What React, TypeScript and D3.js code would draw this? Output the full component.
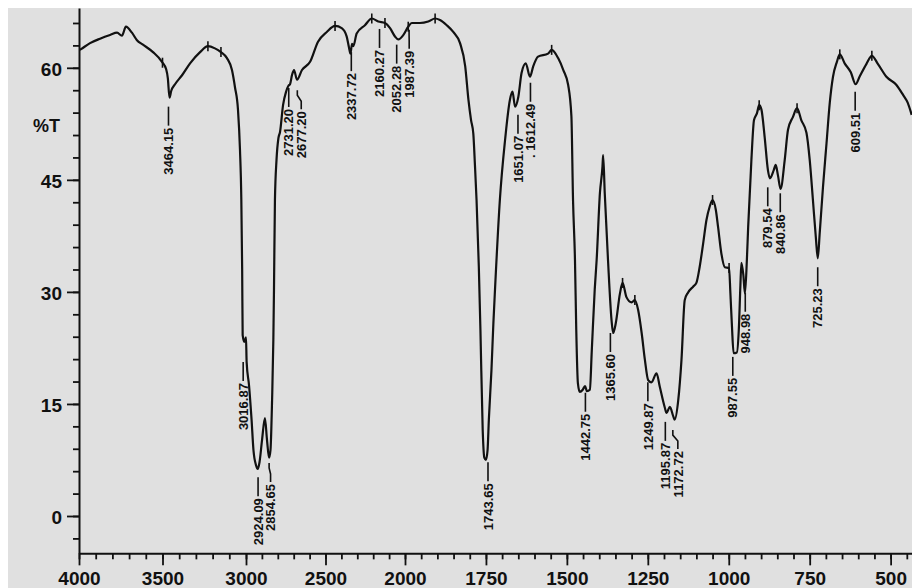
import { useEffect, useRef } from 'react';
import * as d3 from 'd3';

// spectrum (wavenumber cm-1, %T)
const wavenumbers = [
  3995, 3988, 3934, 3874, 3814, 3772, 3743, 3719, 3683, 3653, 3617, 3557, 3503, 3478, 3468, 3458, 3448, 3425,
  3383, 3335, 3275, 3228, 3186, 3150, 3114, 3084, 3066, 3048, 3036, 3028, 3023, 3020, 3010, 3000, 2996, 2981,
  2965, 2953, 2937, 2926, 2915, 2899, 2881, 2868, 2855, 2846, 2836, 2828, 2824, 2818, 2808, 2796, 2786, 2767,
  2748, 2733, 2723, 2711, 2698, 2679, 2648, 2597, 2547, 2492, 2440, 2398, 2367, 2352, 2343, 2333, 2325, 2304,
  2252, 2209, 2168, 2126, 2094, 2063, 2042, 2010, 1990, 1979, 1954, 1928, 1907, 1892, 1871, 1851, 1830, 1814,
  1804, 1796, 1789, 1784, 1779, 1772, 1767, 1760, 1755, 1750, 1745, 1741, 1733, 1727, 1722, 1707, 1691, 1676,
  1668, 1660, 1650, 1640, 1627, 1614, 1604, 1589, 1558, 1547, 1527, 1511, 1496, 1486, 1481, 1475, 1471, 1466,
  1460, 1451, 1444, 1438, 1429, 1423, 1414, 1408, 1398, 1390, 1388, 1383, 1373, 1362, 1357, 1349, 1336, 1328,
  1316, 1300, 1290, 1280, 1269, 1259, 1249, 1239, 1223, 1213, 1198, 1192, 1182, 1171, 1167, 1156, 1146, 1136,
  1126, 1110, 1100, 1090, 1079, 1069, 1059, 1050, 1040, 1033, 1023, 1012, 999, 995, 990, 985, 975, 969,
  964, 961, 955, 950, 944, 940, 930, 922, 913, 906, 899, 889, 879, 873, 861, 855, 848, 840,
  827, 817, 802, 789, 776, 760, 750, 740, 731, 725, 719, 709, 698, 688, 678, 666, 657, 642,
  623, 608, 596, 575, 558, 539, 513, 482, 462, 447, 435,
];
const transmittance = [
  62.4, 62.5, 63.3, 63.9, 64.4, 64.7, 64.3, 65.5, 64.7, 63.7, 63.1, 62.1, 60.8, 59.8, 58.6, 56.0, 56.9, 57.8,
  59.0, 60.6, 62.1, 62.9, 62.6, 62.1, 61.3, 59.7, 57.4, 54.4, 49.0, 42.3, 33.0, 24.2, 23.3, 23.9, 20.6, 17.5,
  12.9, 8.8, 6.8, 6.3, 7.2, 10.2, 13.1, 10.2, 7.8, 8.8, 15.5, 23.6, 30.3, 42.3, 47.7, 50.6, 51.4, 55.0,
  56.8, 57.6, 57.8, 59.0, 59.7, 58.4, 59.7, 60.8, 63.5, 64.8, 65.6, 65.3, 64.2, 62.7, 61.9, 63.2, 62.9, 64.6,
  65.7, 66.6, 66.2, 66.0, 65.3, 64.2, 63.8, 64.4, 65.5, 66.0, 66.0, 66.2, 66.6, 66.4, 65.7, 64.8, 63.3, 60.2,
  55.7, 53.0, 51.2, 47.0, 42.3, 33.4, 24.9, 11.5, 7.8, 7.5, 8.8, 12.9, 19.5, 25.8, 30.3, 42.3, 50.3, 55.7,
  56.8, 54.8, 56.1, 59.3, 60.6, 58.8, 60.2, 61.5, 61.9, 62.4, 61.3, 59.7, 57.7, 53.5, 42.3, 34.3, 24.9, 17.8,
  16.6, 16.9, 17.4, 16.7, 16.9, 22.2, 30.3, 34.3, 43.2, 46.8, 48.3, 43.2, 34.3, 26.2, 24.5, 25.8, 29.8, 31.2,
  29.3, 28.6, 28.9, 27.6, 24.5, 20.9, 18.2, 17.9, 19.1, 17.3, 14.6, 13.8, 14.6, 13.3, 12.9, 15.5, 20.9, 28.9,
  29.9, 30.7, 31.2, 33.3, 36.5, 39.6, 41.4, 42.3, 41.0, 38.7, 35.2, 33.3, 33.2, 29.9, 25.3, 21.8, 21.9, 24.9,
  30.9, 33.9, 32.3, 29.8, 34.3, 38.7, 47.7, 53.0, 53.9, 55.0, 54.4, 50.7, 46.3, 45.2, 46.3, 47.0, 45.6, 43.8,
  47.7, 51.7, 53.4, 54.6, 53.0, 51.3, 47.7, 42.3, 37.3, 34.5, 37.9, 44.0, 49.9, 55.3, 58.8, 60.8, 61.8, 60.6,
  59.4, 57.8, 58.8, 60.5, 61.6, 60.5, 58.8, 57.7, 56.4, 55.3, 53.7,
];

// peak-pick annotations
const peakLabels = [
  '3464.15', '3016.87', '2924.09', '2854.65', '2731.20', '2677.20', '2337.72', '2160.27', '2052.28', '1987.39',
  '1743.65', '1651.07', '. 1612.49', '1442.75', '1365.60', '1249.87', '1195.87', '1172.72', '987.55', '948.98',
  '879.54', '840.86', '725.23', '609.51',
];
const peakPositions = [
  3464.15, 3016.87, 2924.09, 2854.65, 2731.2, 2677.2, 2337.72, 2160.27, 2052.28, 1987.39,
  1743.65, 1651.07, 1612.49, 1442.75, 1365.6, 1249.87, 1195.87, 1172.72, 987.55, 948.98,
  879.54, 840.86, 725.23, 609.51,
];
// %T where each leader line starts
const peakLabelTop = [
  54.8, 20.6, 5.2, 7.1, 57.3, 57.0, 62.1, 65.2, 63.1, 65.1,
  7.2, 53.7, 58.0, 16.5, 24.5, 17.9, 12.6, 11.5, 21.3, 29.9,
  44.0, 43.2, 33.3, 56.8,
];

// little marks across the trace at maxima
const maximaMarks = [3500, 3228, 3150, 2440, 2209, 2126, 1990, 1907, 1547, 1328, 1290, 1050, 999, 906, 789, 657, 558];

const xMajor = [4000, 3500, 3000, 2500, 2000, 1750, 1500, 1250, 1000, 750, 500];
const yMajor = [0, 15, 30, 45, 60];
const yTitle = '%T';

const App = () => {
  const svgRef = useRef<SVGSVGElement>(null);
  const width = 912;
  const height = 588;

  useEffect(() => {
    const svg = d3.select(svgRef.current);
    svg.selectAll('*').remove();

    const font = "'Liberation Sans', Arial, sans-serif";
    const ink = '#111';

    const x = d3.scaleLinear().domain([4000, 3000, 2000, 400]).range([79, 246, 405, 923]);
    const y = d3.scaleLinear().domain([-5, 68]).range([553.35, 8.04]);

    svg.append('rect')
      .attr('x', 8).attr('y', 8)
      .attr('width', width - 8).attr('height', height - 8)
      .attr('fill', '#e0e0e0');

    // ---- x axis
    const xMinor = d3.range(4000, 2000, -100).concat(d3.range(2000, 400, -50));
    const gxMinor = svg.append('g').attr('transform', `translate(0,${y(-5)})`)
      .call(d3.axisBottom(x).tickValues(xMinor).tickSize(6).tickSizeOuter(0).tickFormat(() => ''));
    const gxMajor = svg.append('g').attr('transform', `translate(0,${y(-5)})`)
      .call(d3.axisBottom(x).tickValues(xMajor).tickSize(12).tickSizeOuter(0).tickPadding(6).tickFormat(d3.format('d')));
    gxMajor.select('.domain').remove();

    // ---- y axis
    const yMinor = d3.range(-3, 67, 3);
    const gyMinor = svg.append('g').attr('transform', 'translate(79,0)')
      .call(d3.axisLeft(y).tickValues(yMinor).tickSize(6).tickSizeOuter(0).tickFormat(() => ''));
    const gyMajor = svg.append('g').attr('transform', 'translate(79,0)')
      .call(d3.axisLeft(y).tickValues(yMajor).tickSize(12).tickSizeOuter(0).tickPadding(5).tickFormat(d3.format('d')));
    gyMajor.select('.domain').remove();

    [gxMinor, gxMajor, gyMinor, gyMajor].forEach(g => {
      g.selectAll('.domain').attr('stroke', ink).attr('stroke-width', 2);
      g.selectAll('line').attr('stroke', ink).attr('stroke-width', 1.8);
      g.selectAll('text')
        .attr('fill', ink)
        .attr('font-family', font)
        .attr('font-size', 19)
        .attr('font-weight', 'bold');
    });
    gxMajor.selectAll('text').attr('dy', '0.72em');
    gyMajor.selectAll('text').attr('dy', '0.4em');

    svg.append('text')
      .attr('x', 60).attr('y', 132)
      .attr('text-anchor', 'end')
      .attr('font-family', font).attr('font-size', 18).attr('font-weight', 'bold')
      .attr('fill', ink)
      .text(yTitle);

    // ---- spectrum
    const pts: [number, number][] = wavenumbers.map((w, i) => [w, transmittance[i]]);
    const line = d3.line<[number, number]>()
      .x(d => x(d[0]))
      .y(d => y(d[1]))
      .curve(d3.curveMonotoneX);

    svg.append('path')
      .datum(pts)
      .attr('d', line)
      .attr('fill', 'none')
      .attr('stroke', ink)
      .attr('stroke-width', 2.2)
      .attr('stroke-linejoin', 'round');

    const tAt = (w: number) => {
      for (let i = 0; i < wavenumbers.length - 1; i++) {
        if (w <= wavenumbers[i] && w >= wavenumbers[i + 1]) {
          const f = (wavenumbers[i] - w) / (wavenumbers[i] - wavenumbers[i + 1]);
          return transmittance[i] + f * (transmittance[i + 1] - transmittance[i]);
        }
      }
      return transmittance[transmittance.length - 1];
    };

    svg.append('g')
      .selectAll('line')
      .data(maximaMarks)
      .join('line')
      .attr('x1', d => x(d)).attr('x2', d => x(d))
      .attr('y1', d => y(tAt(d)) - 5)
      .attr('y2', d => y(tAt(d)) + 5)
      .attr('stroke', ink)
      .attr('stroke-width', 1.6);

    // ---- peak labels
    const leader = 19;
    const labelSize = 13;
    const spacing = 12.5;
    const placed: { tx: number; top: number; bottom: number }[] = [];
    const labels = peakLabels.map((text, i) => {
      const px = x(peakPositions[i]);
      const top = y(peakLabelTop[i]);
      const bottom = top + leader + 2 + text.length * labelSize * 0.56;
      let tx = px;
      placed.forEach(p => {
        if (p.top < bottom && top < p.bottom && Math.abs(tx - p.tx) < spacing) {
          tx = p.tx + spacing;
        }
      });
      placed.push({ tx, top, bottom });
      return { text, px, tx, top };
    });

    const gl = svg.append('g');
    gl.selectAll('path')
      .data(labels)
      .join('path')
      .attr('d', d => d.tx === d.px
        ? `M${d.px},${d.top}V${d.top + leader}`
        : `M${d.px},${d.top}V${d.top + 5}L${d.tx},${d.top + 11}V${d.top + leader}`)
      .attr('fill', 'none')
      .attr('stroke', ink)
      .attr('stroke-width', 1.6);

    gl.selectAll('text')
      .data(labels)
      .join('text')
      .attr('transform', d => `translate(${d.tx},${d.top + leader + 2}) rotate(-90)`)
      .attr('text-anchor', 'end')
      .attr('dy', '0.36em')
      .attr('font-family', font)
      .attr('font-size', labelSize)
      .attr('font-weight', 'bold')
      .attr('fill', ink)
      .text(d => d.text);
  }, []);

  return (
    <svg
      ref={svgRef}
      width={width}
      height={height}
      style={{ position: 'absolute', left: 0, top: 0, background: '#fff' }}
    ></svg>
  );
};

export default App;
